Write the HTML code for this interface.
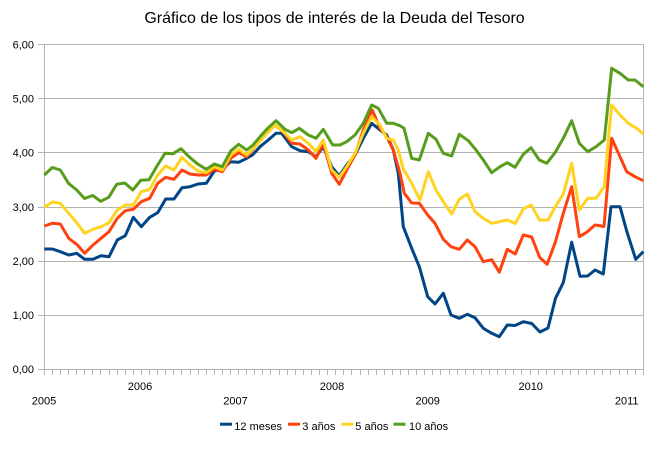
<!DOCTYPE html>
<html>
<head>
<meta charset="utf-8">
<style>
html,body{margin:0;padding:0;background:#fff;}
svg{display:block;}
text{font-family:"Liberation Sans",Arial,sans-serif;fill:#000;}
</style>
</head>
<body>
<svg width="671" height="449" viewBox="0 0 671 449" xmlns="http://www.w3.org/2000/svg">
<rect x="0" y="0" width="671" height="449" fill="#fff"/>
<text x="334.5" y="23" font-size="16" text-anchor="middle">Gráfico de los tipos de interés de la Deuda del Tesoro</text>

<!-- gridlines -->
<g stroke="#b3b3b3" stroke-width="1" fill="none">
<path d="M38 44.5H643.5M38 98.5H643.5M38 152.5H643.5M38 207.5H643.5M38 261.5H643.5M38 315.5H643.5M38 369.5H643.5"/>
<path d="M44.5 44V375M643.5 44V375"/>
<path d="M52.5 369v6M60.5 369v6M68.5 369v6M76.5 369v6M84.5 369v6M92.5 369v6M100.5 369v6M109.5 369v6M117.5 369v6M125.5 369v6M133.5 369v6M141.5 369v6M149.5 369v6M157.5 369v6M165.5 369v6M173.5 369v6M181.5 369v6M190.5 369v6M198.5 369v6M206.5 369v6M214.5 369v6M222.5 369v6M230.5 369v6M238.5 369v6M246.5 369v6M254.5 369v6M262.5 369v6M270.5 369v6M279.5 369v6M287.5 369v6M295.5 369v6M303.5 369v6M311.5 369v6M319.5 369v6M327.5 369v6M335.5 369v6M343.5 369v6M351.5 369v6M360.5 369v6M368.5 369v6M376.5 369v6M384.5 369v6M392.5 369v6M400.5 369v6M408.5 369v6M416.5 369v6M424.5 369v6M432.5 369v6M440.5 369v6M449.5 369v6M457.5 369v6M465.5 369v6M473.5 369v6M481.5 369v6M489.5 369v6M497.5 369v6M505.5 369v6M513.5 369v6M521.5 369v6M530.5 369v6M538.5 369v6M546.5 369v6M554.5 369v6M562.5 369v6M570.5 369v6M578.5 369v6M586.5 369v6M594.5 369v6M602.5 369v6M610.5 369v6M619.5 369v6M627.5 369v6M635.5 369v6"/>
</g>

<!-- y labels -->
<g font-size="11" text-anchor="end">
<text x="34" y="48.5">6,00</text>
<text x="34" y="102.5">5,00</text>
<text x="34" y="156.5">4,00</text>
<text x="34" y="211">3,00</text>
<text x="34" y="265">2,00</text>
<text x="34" y="319">1,00</text>
<text x="34" y="373">0,00</text>
</g>

<!-- x labels -->
<g font-size="11" text-anchor="middle">
<text x="44" y="404.3">2005</text>
<text x="140" y="390">2006</text>
<text x="235.5" y="404.3">2007</text>
<text x="332" y="390">2008</text>
<text x="427.7" y="404.3">2009</text>
<text x="530.7" y="390">2010</text>
<text x="626.7" y="404.3">2011</text>
</g>

<!-- series -->
<g fill="none" stroke-width="3" stroke-linejoin="round" stroke-linecap="butt">
<polyline stroke="#004586" points="44.3,249 52.3,249 60.3,251.7 68.7,255 76.7,253.3 84.7,259.3 93,259.3 101,255.7 109,256.7 117.3,240 125.3,235.7 133.3,217.3 141.3,226.7 149.7,217.3 157.7,212.7 165.7,199 174,199 182,187.7 190,186.7 198,184 206.3,183.3 214.3,171 222.3,169.3 230.7,161.7 238.7,162.3 246.7,158.3 252.5,155 260,146.7 268.3,140 276,133.3 281.7,133.3 291.7,146.7 300,150.7 308.3,151.7 316,156.7 323.3,146.7 331.7,166.7 339.3,176 346.7,165 355,155 363.3,138.3 371.7,123.3 380,130 386.7,135 393.3,150 398.3,173.3 403.3,226.7 411.7,248.3 419.3,266.7 427.7,296.7 435,304 443.3,293.3 451,315 459.3,318.3 467.3,314.3 475,317.7 483.3,328.3 491.7,333.3 499.3,336.7 507.3,325 515,325.5 523.3,321.7 531.7,323.5 540,332 548,328 555.5,298.3 563.3,282.5 571.7,242.2 580,276.3 587.7,276 595,270 603.3,274 611,206.7 620,206.7 626.7,231 635.7,259.3 643.3,251.7"/>
<polyline stroke="#ff420e" points="44.3,226 52.3,223.3 60.3,224 68.7,238.3 76.7,244.3 84.7,253.3 93,245 101,238.3 109,231.7 117.3,218.3 125.3,210.7 133.3,209.3 141.3,201.7 149.7,198.3 157.7,183.3 165.7,177.3 174,179.3 182,170 190,174 198,175 206.3,175 214.3,169.3 222.3,171.7 230.7,158.3 238.7,152.7 246.7,156.7 252.5,150 260,140 268,132 275,125 283.3,131.7 291.7,143.3 300,144 308.3,150 316,158.3 323.3,143.3 331.7,173.3 339.3,184.3 346.7,170 355,155 363.3,130 372.3,110 380,128.3 386.7,136.7 393.3,150 400,173.3 404.3,193.3 411.7,203 419.3,203.3 427.7,215 435,223.3 443.3,239.3 451,246.7 459.3,249.3 467.3,240 475,246.7 483.3,261.7 491.7,259.7 499.3,272.2 507.3,249.3 515.3,254 523.3,235 531.7,237 539.7,257.5 547.2,264.2 555.5,241.6 563.3,213.3 571.7,186.7 579.3,236.7 586.7,232.3 595,225 604,226.5 611.7,138.3 620,156.7 626.7,171.7 635,176.7 643.3,180.7"/>
<polyline stroke="#ffd320" points="44.3,207.3 52.3,202 60.3,203.3 68.7,213.3 76.7,222.7 84.7,233.3 93,229.3 101,226.7 109,222.7 117.3,210 125.3,205 133.3,205 141.3,191.7 149.7,189.3 157.7,175 165.7,166 174,170 182,157.3 190,165 198,171 206.3,172.7 214.3,166.7 222.3,170 230.7,155 238.7,149.3 246.7,155 256.7,145 266,134 275,125 285,133.3 291.7,140 300,136.7 308.3,143.3 316,151.7 323.3,140 331.7,170 339.3,177.3 346.7,166.7 355,153.3 363.3,133.3 371.7,116.7 380,125 386.7,138.3 393.3,140 398.3,150 403.3,169 411.7,183.3 420,200 428.3,171.7 436,190 443.3,201.7 451.7,214 459.3,199.3 467.3,194 475,211.7 483.3,218.3 491.7,223.3 499.3,221.7 507.3,220 515.3,223.5 523.3,208.8 531.3,205 539.5,220 548,220 555.5,206.5 563.3,194 571.7,163.3 579.3,210 587.7,198.3 596,198.3 604.3,186.7 608.3,140 611.7,105 620,115 628.3,123.3 636.7,128.3 643.3,134"/>
<polyline stroke="#579d1c" points="44.3,175 52.3,167.5 60.3,170 68.5,183.3 76.7,190 84.5,198.5 92.7,195.5 100.7,201.3 108.7,197.3 116.8,184.2 124.8,183 132.8,190 140.8,180.3 149,179.7 157,166 165,153.3 173,153.7 181,148.7 189,156.7 197.2,163.7 206.3,169.3 214.3,164 222.3,166.7 230.7,151 238.7,144.3 246.7,150 253,145 260,136.7 268,128 276,120.7 285,129.3 291.7,132.7 299.3,128.3 308.3,135 316,138.3 323.3,129.3 332.7,145 340,145 346.7,141.7 355,135 363.3,123.3 371.7,105 378.3,108.3 386.7,123.3 393.3,123.3 400,125.7 404,128.3 411.7,158.3 419.3,160 428.3,133.3 436,139.3 443.3,153.3 451.7,156 459.3,134.3 468.3,140.7 476,150 483.3,160 491.7,172.7 500,166.7 507.3,162.7 515,167.3 523.3,154.3 531,147.7 539.3,160 546.7,163.3 555,152.7 563.3,138.3 571.7,120.7 579.3,143.3 587.7,151.7 596,146.7 604.3,140 611.7,68.3 620,73.3 628.3,80 635,80 643.3,86.7"/>
</g>

<!-- legend -->
<rect x="220" y="422.7" width="12" height="3" fill="#004586"/>
<text x="234.3" y="430" font-size="11">12 meses</text>
<rect x="288" y="422.7" width="12" height="3" fill="#ff420e"/>
<text x="302.3" y="430" font-size="11">3 años</text>
<rect x="341.5" y="422.7" width="12" height="3" fill="#ffd320"/>
<text x="355.3" y="430" font-size="11">5 años</text>
<rect x="393.5" y="422.7" width="12" height="3" fill="#579d1c"/>
<text x="409" y="430" font-size="11">10 años</text>
</svg>
</body>
</html>
